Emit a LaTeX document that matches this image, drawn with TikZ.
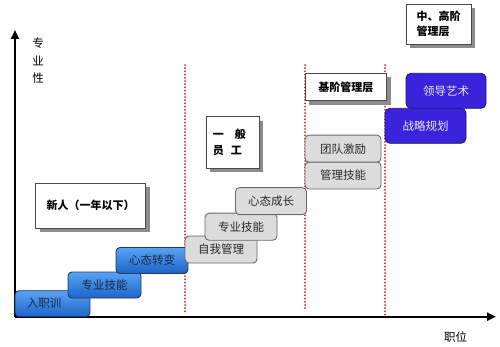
\documentclass[tikz,border=0pt]{standalone}
\usepackage{fontspec}
\newfontfamily\cjk{Noto Sans CJK SC}
\usetikzlibrary{arrows.meta,shadows}
\definecolor{bluetop}{HTML}{5AA2F2}
\definecolor{bluebot}{HTML}{1C64CA}
\definecolor{blueedge}{HTML}{1F3A62}
\definecolor{purplefill}{HTML}{3B22DC}
\definecolor{purpleedge}{HTML}{1E1A66}
\definecolor{purpletext}{HTML}{E6E6FF}
\definecolor{grayfill}{HTML}{DCDCDC}
\definecolor{grayedge}{HTML}{6A6A6A}
\definecolor{graytext}{HTML}{2A2A2A}
\definecolor{labeledge}{HTML}{4A4A4A}
\definecolor{shadowgray}{HTML}{8C8C8C}
\definecolor{dotred}{HTML}{E0202A}
\tikzset{
  every node/.style={font=\cjk\fontsize{11.5}{13}\selectfont},
  bluebox/.style={rectangle, rounded corners=4pt, draw=blueedge, line width=0.9pt,
    top color=bluetop, bottom color=bluebot, text=blueedge!70!black,
    minimum height=26pt, inner sep=0pt},
  graybox/.style={rectangle, rounded corners=4pt, draw=grayedge, line width=0.9pt,
    fill=grayfill, text=graytext, minimum height=27pt, inner sep=0pt},
  purplebox/.style={rectangle, rounded corners=5pt, draw=purpleedge, line width=0.9pt,
    fill=purplefill, text=purpletext, minimum height=35pt, inner sep=0pt},
  labelbox/.style={rectangle, draw=labeledge, line width=0.8pt, fill=white,
    drop shadow={shadow xshift=4pt, shadow yshift=-4pt, fill=shadowgray, opacity=1},
    font=\cjk\bfseries\fontsize{11}{15}\selectfont, inner sep=0pt},
  axisline/.style={line width=2.4pt, -{Triangle[length=9pt,width=8pt]}},
  reddots/.style={dotred, line width=2pt, dash pattern=on 0pt off 3.2pt, line cap=round},
  axislabel/.style={text=black}
}
\begin{document}
\begin{tikzpicture}[x=1pt,y=-1pt]
\useasboundingbox (0,0) rectangle (500,347);
% coordinates
\coordinate (O) at (15,316.7);
\coordinate (Ytip) at (15,30);
\coordinate (Xtip) at (496,316.7);
\coordinate (d1t) at (185,65);
\coordinate (d1b) at (185,314);
\coordinate (d2t) at (305,65);
\coordinate (d2b) at (305,311);
\coordinate (d3t) at (385,65);
\coordinate (d3b) at (385,316);
% dotted separators
\draw[reddots] (d1t) -- (d1b);
\draw[reddots] (d2t) -- (d2b);
\draw[reddots] (d3t) -- (d3b);
% axes
\draw[axisline] (O) -- (Ytip);
\draw[axisline] (O) -- (Xtip);
\node[axislabel, align=center, font=\cjk\fontsize{11.5}{17.5}\selectfont] (ylab) at (38,61) {专\\业\\性};
\node[axislabel] (xlab) at (455.5,337) {职位};
% blue stair (new staff)
\node[bluebox, text width=51pt, inner xsep=12pt, align=left] (b1) at (52.5,303.7) {入职训};
\node[bluebox, minimum width=73pt] (b2) at (104.5,285) {专业技能};
\node[bluebox, minimum width=72pt] (b3) at (152,260.5) {心态转变};
% gray stair (ordinary staff)
\node[graybox, minimum width=72pt] (g1) at (221,249.5) {自我管理};
\node[graybox, minimum width=72pt] (g2) at (241,226.7) {专业技能};
\node[graybox, minimum width=71pt] (g3) at (271,201.2) {心态成长};
% gray (basic management)
\node[graybox, minimum width=76pt] (g5) at (343,175.5) {管理技能};
\node[graybox, minimum width=76pt] (g4) at (343,148.7) {团队激励};
% purple (senior management)
\node[purplebox, minimum width=80pt] (p2) at (446,90.8) {领导艺术};
\node[purplebox, minimum width=81pt] (p1) at (425.5,125.8) {战略规划};
% stage labels
\node[labelbox, minimum width=110pt, minimum height=44.7pt] (l1) at (90.7,205.6) {新人（一年以下）};
\node[labelbox, text width=39pt, inner xsep=7pt, minimum height=51.6pt, align=left,
  font=\cjk\bfseries\fontsize{11}{16}\selectfont] (l2) at (232.4,142.5) {一　般\\员\hspace{7pt}工};
\node[labelbox, minimum width=81.7pt, minimum height=27.4pt] (l3) at (345.8,87) {基阶管理层};
\node[labelbox, minimum width=65pt, minimum height=40pt, align=left] (l4) at (438.5,24.3) {中、高阶\\管理层};
\end{tikzpicture}
\end{document}
